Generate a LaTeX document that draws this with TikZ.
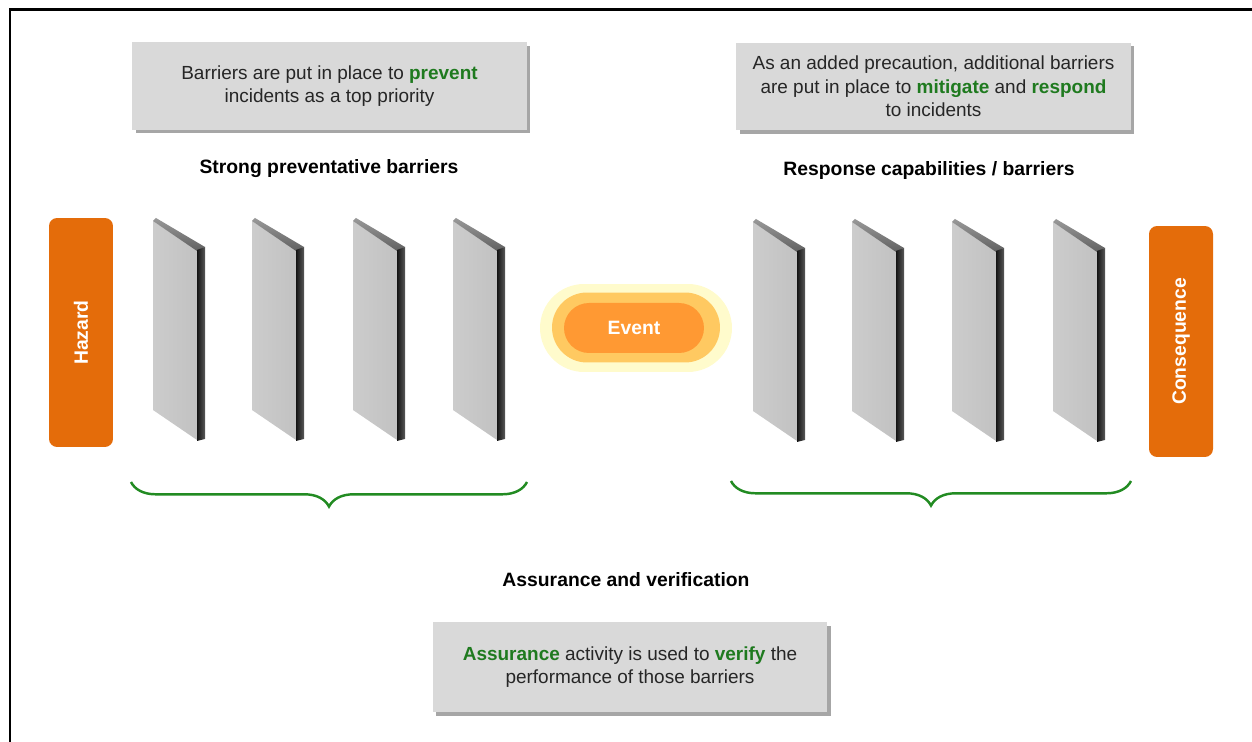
\documentclass[tikz,border=0pt]{standalone}
\usepackage{fontspec}
\setmainfont{Liberation Sans}
\usetikzlibrary{positioning}
\usetikzlibrary{shadows}
\usetikzlibrary{decorations.pathreplacing}
\definecolor{hazorange}{HTML}{E46C0A}
\definecolor{boxgray}{HTML}{D9D9D9}
\definecolor{textdark}{HTML}{262626}
\definecolor{txtgreen}{HTML}{1F7A1F}
\definecolor{bracegreen}{HTML}{228B22}
\definecolor{evpale}{HTML}{FFFBCC}
\definecolor{evmid}{HTML}{FFC961}
\definecolor{evcore}{HTML}{FF9933}
\newcommand{\gbf}[1]{\textbf{\color{txtgreen}#1}}
\tikzset{
infobox/.style={fill=boxgray, minimum width=7.9cm, minimum height=1.76cm,
    align=center, text=textdark, font=\fontsize{10.8}{13.4}\selectfont,
    drop shadow={shadow xshift=2pt, shadow yshift=-2pt, fill=black, opacity=0.35}},
headlabel/.style={font=\fontsize{11}{13}\selectfont\bfseries, text=black},
endbox/.style={fill=hazorange, rounded corners=0.16cm, rotate=90,
    minimum height=1.28cm, text=white, font=\fontsize{11}{13}\selectfont\bfseries},
evring/.style 2 args={fill=#1, minimum width=#2, inner sep=0pt},
greenbrace/.style={draw=bracegreen, line width=1.4pt,
    decorate, decoration={brace, mirror, amplitude=14pt}},
barrier/.pic={
    \shade[left color=gray!40, right color=gray!48] (0,3) -- (44,32) -- (44,222) -- (0,192) -- cycle;
    \shade[top color=black!40, bottom color=black!62] (0,3) -- (3,0) -- (52,29) -- (44,33) -- cycle;
    \shade[left color=black!92, right color=black!65] (44,32) -- (52,29) -- (52,221) -- (44,223) -- cycle;
}
}
\begin{document}
\begin{tikzpicture}[x=0.02cm, y=-0.02cm]
    \useasboundingbox (0,0) rectangle (1252,742);
    \draw[line width=1.2pt] (10,742) -- (10,9.5) -- (1252,9.5);

    % boxes and headings
    \node[infobox] (prevbox) at (329.5,86) {Barriers are put in place to \gbf{prevent}\\ incidents as a top priority};
    \node[infobox] (respbox) at (933.5,86.5) {As an added precaution, additional barriers\\ are put in place to \gbf{mitigate} and \gbf{respond}\\ to incidents};
    \node[headlabel] (prevhead) at (329,169) {Strong preventative barriers};
    \node[headlabel] (resphead) at (929,171) {Response capabilities / barriers};
    \node[headlabel] (assurehead) at (626,580) {Assurance and verification};
    \node[infobox, minimum height=1.8cm] (assurebox) at (630,667) {\gbf{Assurance} activity is used to \gbf{verify} the\\ performance of those barriers};

    % hazard, event, consequence
    \node[endbox, minimum width=4.58cm] (hazard) at (81,332.5) {Hazard};
    \node[endbox, minimum width=4.62cm] (conseq) at (1181,341.5) {Consequence};
    \node[evring={evpale}{3.84cm}, minimum height=1.76cm, rounded corners=0.88cm] (evout) at (636,328) {};
    \node[evring={evmid}{3.36cm}, minimum height=1.4cm, rounded corners=0.7cm] (evmid) at (636,327.5) {};
    \node[evring={evcore}{2.8cm}, minimum height=1.0cm, rounded corners=0.5cm,
        text=white, font=\fontsize{11}{13}\selectfont\bfseries] (event) at (634,328) {Event};

    % barriers
    \foreach \bx [count=\i] in {153,252,353,453}
        \pic (pb\i) at (\bx,218) {barrier};
    \foreach \bx [count=\i] in {753,852,952,1053}
        \pic (rb\i) at (\bx,219) {barrier};

    % braces
    \coordinate (lbA) at (131,482);
    \coordinate (lbB) at (527,482);
    \coordinate (rbA) at (731,481);
    \coordinate (rbB) at (1131,481);
    \draw[greenbrace] (lbA) -- (lbB);
    \draw[greenbrace] (rbA) -- (rbB);
\end{tikzpicture}
\end{document}
